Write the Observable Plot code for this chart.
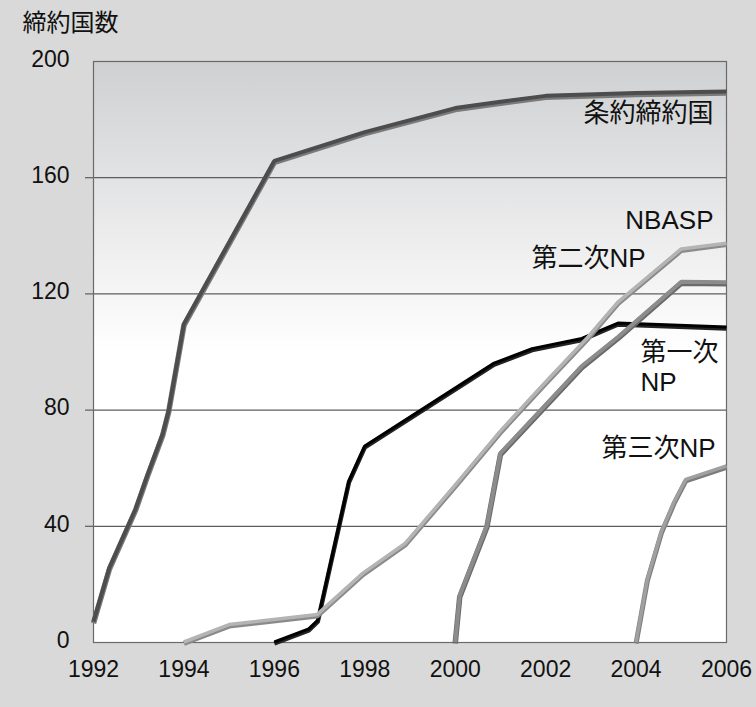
<!DOCTYPE html>
<html><head><meta charset="utf-8">
<script src="https://cdn.jsdelivr.net/npm/d3@7"></script>
<script src="https://cdn.jsdelivr.net/npm/@observablehq/plot@0.6"></script>
<style>
body{margin:0;background:#d9d9d9;}
#chart svg{display:block;}
</style></head>
<body><div id="chart"></div>
<script>
// ---- data ----
const yAxisTitle = "締約国数";
const xTicks = [1992, 1994, 1996, 1998, 2000, 2002, 2004, 2006];
const yTicks = [0, 40, 80, 120, 160, 200];

const treatyName = "条約締約国";
const treatyYears  = [1992, 1992.35, 1992.93, 1993.2, 1993.53, 1993.66, 1994, 1996, 1998, 2000, 2001, 2002, 2004, 2006];
const treatyValues = [7, 25.5, 45.8, 57.8, 71.6, 79.5, 109.5, 165.6, 175.5, 183.8, 186, 188, 189, 189.5];

const np1Name = "第一次\nNP";
const np1Years  = [1996, 1996.76, 1996.96, 1997.65, 1998, 2000.86, 2001.7, 2002.8, 2003.6, 2006];
const np1Values = [0, 4.5, 7.5, 55.5, 67.5, 96, 101, 104.5, 109.8, 108.4];

const np2Name = "第二次NP";
const np2Years  = [1994, 1995, 1996.95, 1997.96, 1998.9, 2000, 2001, 2001.97, 2002.94, 2003.6, 2005, 2006];
const np2Values = [0, 6, 9.5, 23.7, 34, 54, 72.6, 89, 105, 117, 135.3, 137.3];

const nbaspName = "NBASP";
const nbaspYears  = [2000, 2000.1, 2000.7, 2001, 2002.8, 2003.6, 2005, 2006];
const nbaspValues = [0, 16, 40, 65, 95, 105, 124, 123.8];

const np3Name = "第三次NP";
const np3Years  = [2004, 2004.25, 2004.56, 2004.85, 2005.1, 2006];
const np3Values = [0, 21.6, 38, 48.5, 56, 60.6];

// ---- build tables ----
const rows = (years, values) => years.map((y, i) => ({year: y, value: values[i]}));
const treaty = rows(treatyYears, treatyValues);
const np1 = rows(np1Years, np1Values);
const np2 = rows(np2Years, np2Values);
const nbasp = rows(nbaspYears, nbaspValues);
const np3 = rows(np3Years, np3Values);

const FONT = "'Liberation Sans', Arial, 'Noto Sans CJK JP', sans-serif";

function layered(data, main, shadow, w) {
  const common = {x: "year", y: "value", curve: "linear", strokeLinecap: "butt", strokeLinejoin: "miter"};
  return [
    Plot.line(data, {...common, stroke: shadow, strokeWidth: w, dy: 1}),
    Plot.line(data, {...common, stroke: main, strokeWidth: w - 1.5, dy: -0.5})
  ];
}
function label(data, text, opts) {
  return Plot.text([data[data.length - 1]], {
    x: "year", y: "value", text: () => text,
    fontSize: 26, fill: "#111", lineAnchor: "middle", ...opts
  });
}

const plot = Plot.plot({
  width: 756,
  height: 707,
  marginTop: 61,
  marginRight: 30,
  marginBottom: 65,
  marginLeft: 93,
  style: {background: "#d9d9d9", fontFamily: FONT, color: "#111"},
  x: {domain: [1992, 2006], label: null},
  y: {domain: [0, 200], label: null},
  marks: [
    Plot.frame({fill: "url(#plotGrad)", stroke: "none"}),
    Plot.ruleY([40, 80, 120, 160], {stroke: "#5e5e5e", strokeWidth: 1.2}),
    Plot.axisY([40, 80, 120, 160], {tickSize: 8, tickFormat: () => "", label: null, stroke: "#5e5e5e", strokeWidth: 1.2}),
    Plot.axisY(yTicks, {tickSize: 0, tickPadding: 24, fontSize: 23, label: null, tickFormat: "d", fill: "#111", dy: -2}),
    Plot.axisX(xTicks, {tickSize: 0, tickPadding: 18, fontSize: 23, label: null, tickFormat: "d", fill: "#111"}),
    Plot.frame({stroke: "#6a6a6a", strokeWidth: 1.2}),
    ...layered(treaty, "#4d4d4d", "#7a7a7a", 5.5),
    ...layered(np1, "#000000", "#222222", 4.5),
    ...layered(np2, "#b4b4b4", "#8a8a8a", 5),
    ...layered(nbasp, "#8c8c8c", "#6a6a6a", 5.5),
    ...layered(np3, "#a0a0a0", "#7c7c7c", 5),
    label(treaty, treatyName, {textAnchor: "end", dx: -13, dy: 22}),
    label(nbasp, nbaspName, {textAnchor: "end", dx: -13, dy: -62}),
    label(np2, np2Name, {textAnchor: "end", dx: -81, dy: 15}),
    label(np1, np1Name, {textAnchor: "start", dx: -86, dy: 39, lineHeight: 1.15}),
    label(np3, np3Name, {textAnchor: "end", dx: -11, dy: -18}),
    Plot.text([yAxisTitle], {frameAnchor: "top-left", text: d => d, dx: -71, dy: -38, textAnchor: "start", lineAnchor: "middle", fontSize: 24, fill: "#111"})
  ]
});

const svg = d3.select(plot);
const grad = svg.insert("defs", ":first-child").append("linearGradient")
  .attr("id", "plotGrad").attr("x1", 0).attr("y1", 0).attr("x2", 0).attr("y2", 1);
grad.append("stop").attr("offset", "0").attr("stop-color", "#cfd0d2");
grad.append("stop").attr("offset", "0.5").attr("stop-color", "#ffffff");
grad.append("stop").attr("offset", "1").attr("stop-color", "#ffffff");

document.getElementById("chart").appendChild(plot);
</script>
</body></html>
